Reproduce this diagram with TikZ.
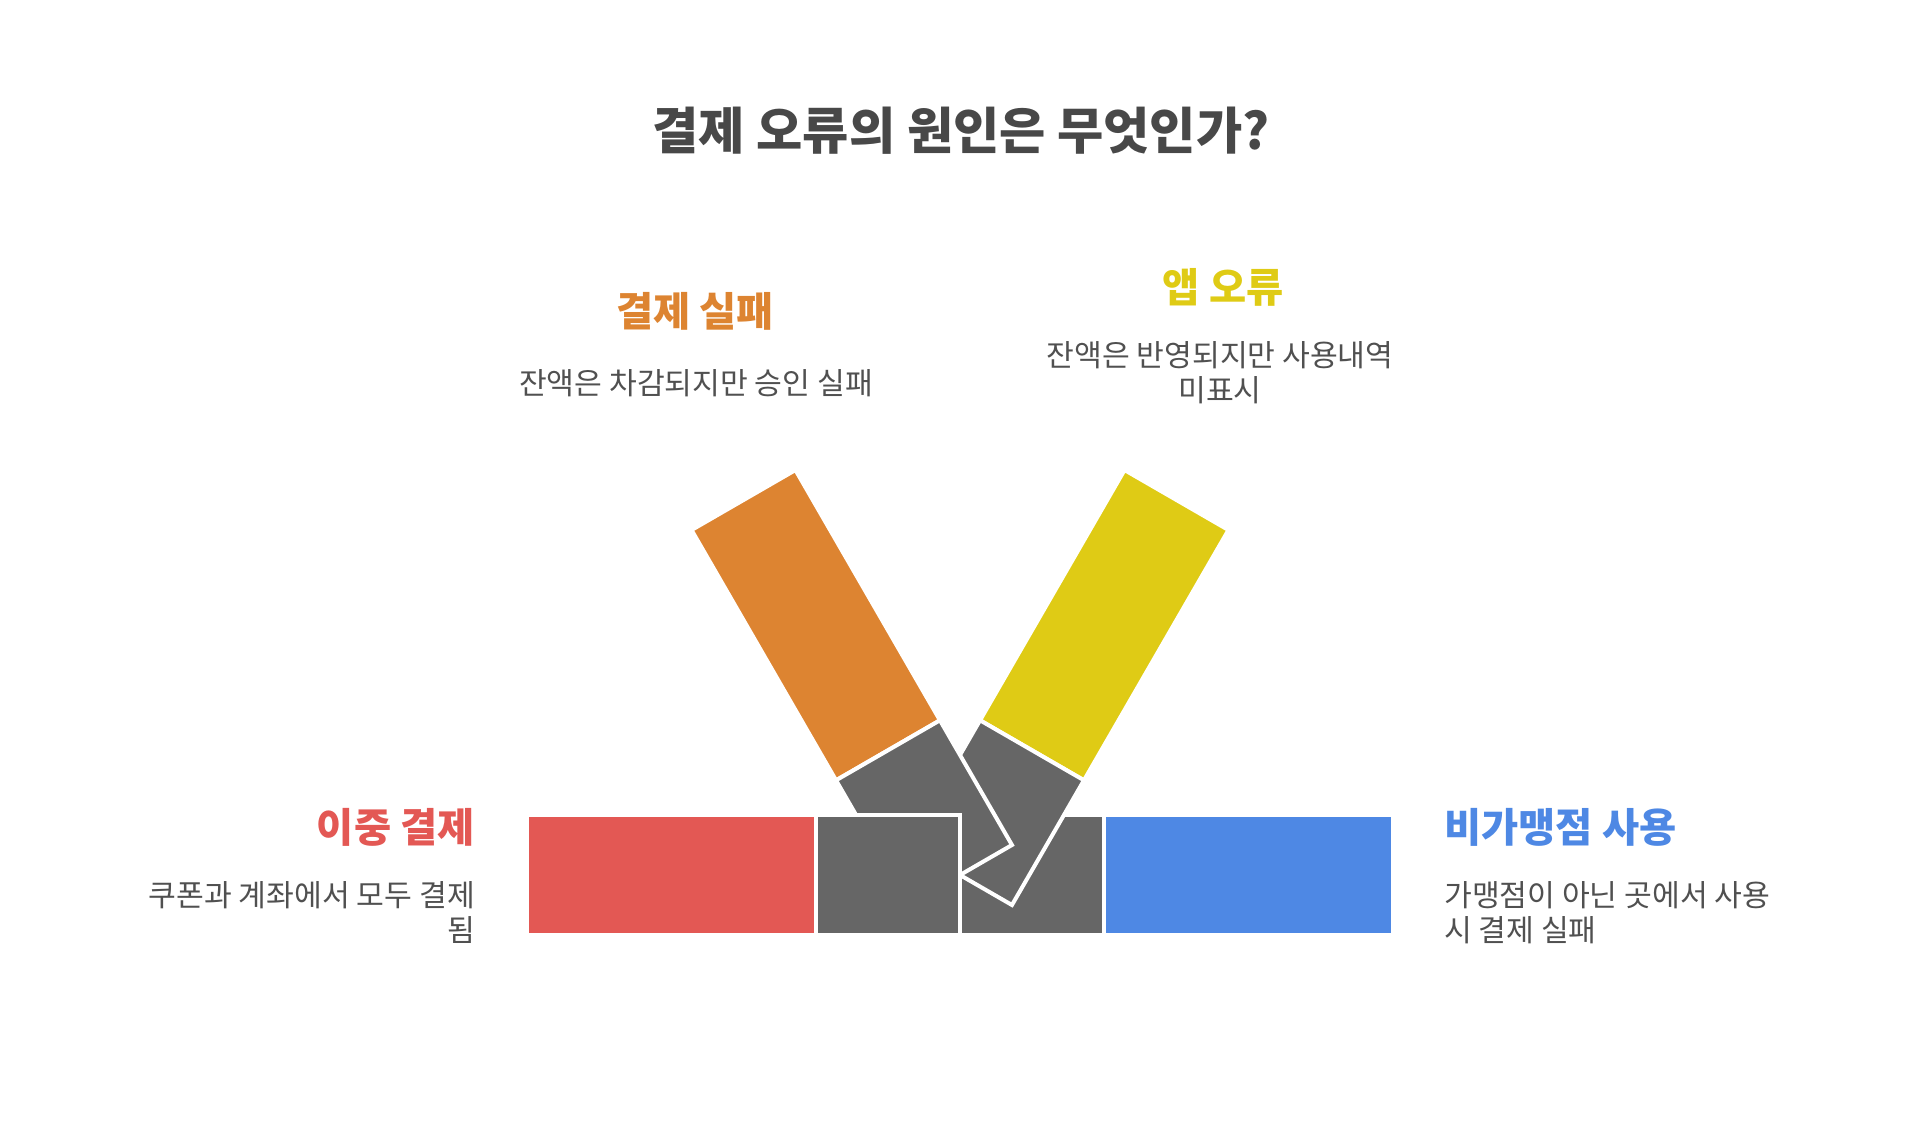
\documentclass[tikz,border=0pt]{standalone}
\usepackage{fontspec}
\newfontfamily\kr{Noto Sans CJK KR}
\definecolor{cOrange}{HTML}{DD8431}
\definecolor{cYellow}{HTML}{DFCB15}
\definecolor{cRed}{HTML}{E35854}
\definecolor{cBlue}{HTML}{4E88E4}
\definecolor{cGray}{HTML}{666666}
\definecolor{cTitle}{HTML}{484848}
\definecolor{cDesc}{HTML}{505050}
\tikzset{
  piece/.style={draw=white, line width=4pt, line join=miter},
  maintitle/.style={font={\kr\bfseries\fontsize{50.3}{58}\selectfont}, text=cTitle, inner sep=0pt},
  heading/.style={font={\kr\bfseries\fontsize{40.4}{46}\selectfont}, inner sep=0pt},
  desc/.style={font={\kr\fontsize{30.2}{35}\selectfont}, text=cDesc, inner sep=0pt},
}
\begin{document}
\begin{tikzpicture}[x=1pt, y=-1pt]
\useasboundingbox (0,0) rectangle (1920,1138);
% key points
\coordinate (O) at (960,875);
% orange arm
\coordinate (oa) at (1011.96,845);
\coordinate (ob) at (908.04,905);
\coordinate (oc) at (939.96,720.29);
\coordinate (od) at (836.04,780.29);
\coordinate (oe) at (795.46,470.02);
\coordinate (of) at (691.54,530.02);
% yellow arm (mirror)
\coordinate (ya) at (908.04,845);
\coordinate (yb) at (1011.96,905);
\coordinate (yc) at (980.04,720.29);
\coordinate (yd) at (1083.96,780.29);
\coordinate (ye) at (1124.54,470.02);
\coordinate (yf) at (1228.46,530.02);

% bottom bars
\fill[piece, fill=cRed] (527,815) rectangle (816,935);
\fill[piece, fill=cBlue] (1104,815) rectangle (1393,935);
\fill[piece, fill=cGray] (960,815) rectangle (1104,935);
% yellow arm
\fill[piece, fill=cYellow] (yc) -- (ye) -- (yf) -- (yd) -- cycle;
\fill[piece, fill=cGray] (ya) -- (yc) -- (yd) -- (yb) -- cycle;
% orange arm
\fill[piece, fill=cOrange] (oc) -- (oe) -- (of) -- (od) -- cycle;
\fill[piece, fill=cGray] (oa) -- (oc) -- (od) -- (ob) -- cycle;
% left gray block on top
\fill[piece, fill=cGray] (816,815) rectangle (960,935);

% texts
\node[maintitle] (title) at (961,131) {결제 오류의 원인은 무엇인가?};

\node[heading, text=cOrange] (h1) at (695,311) {결제 실패};
\node[desc] (d1) at (696,383) {잔액은 차감되지만 승인 실패};

\node[heading, text=cYellow] (h2) at (1223,287) {앱 오류};
\node[desc, anchor=north, align=center] (d2) at (1220,341) {잔액은 반영되지만 사용내역\\미표시};

\node[heading, text=cRed, anchor=east] (h3) at (475,827) {이중 결제};
\node[desc, anchor=north east, align=right] (d3) at (475,881) {쿠폰과 계좌에서 모두 결제\\됨};

\node[heading, text=cBlue, anchor=west] (h4) at (1444,827) {비가맹점 사용};
\node[desc, anchor=north west, align=left] (d4) at (1444,881) {가맹점이 아닌 곳에서 사용\\시 결제 실패};
\end{tikzpicture}
\end{document}
